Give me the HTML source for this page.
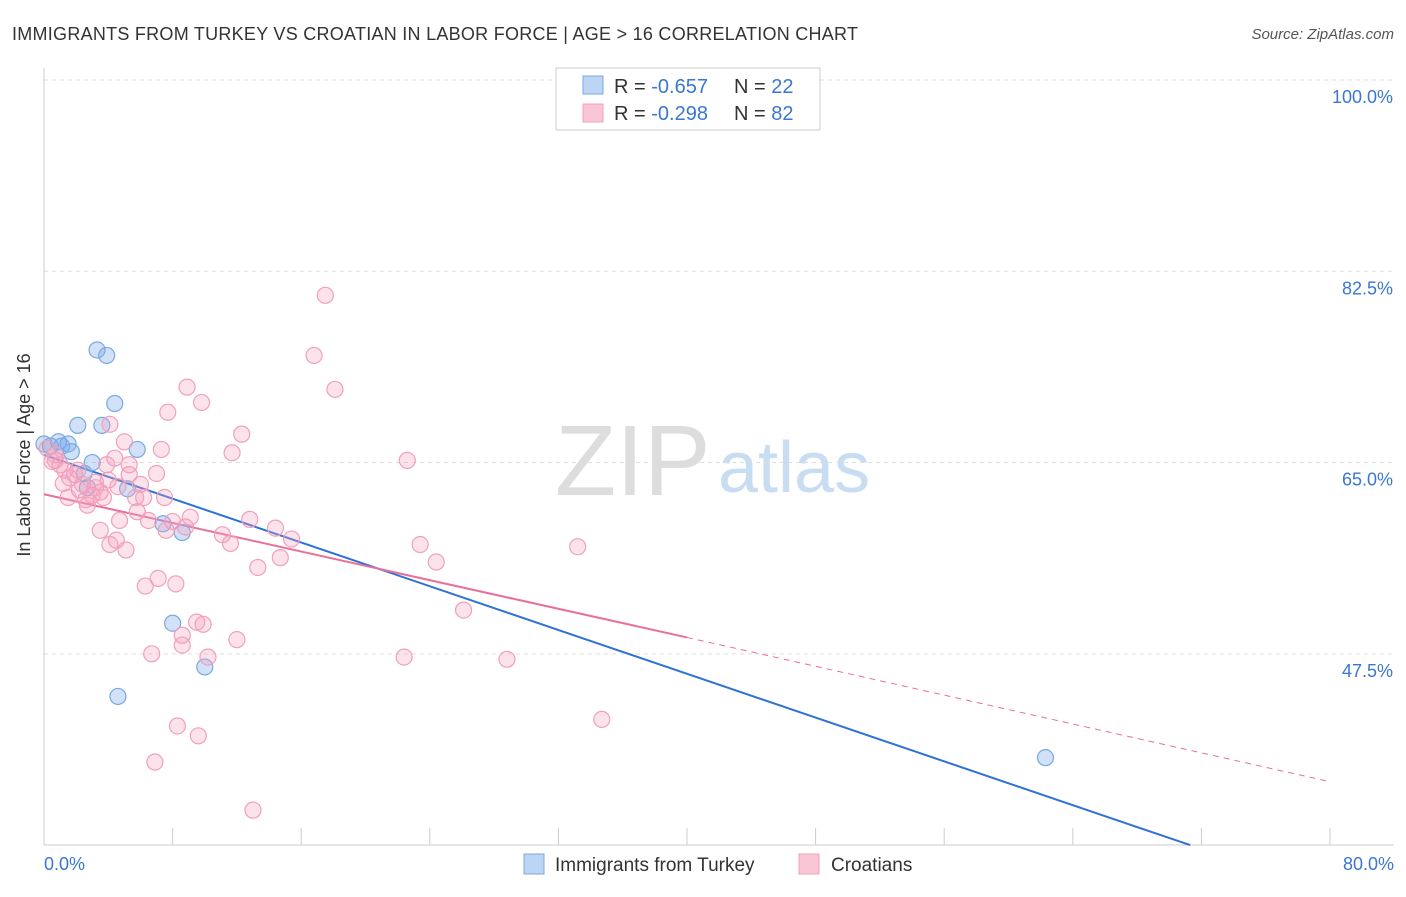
<!DOCTYPE html>
<html><head><meta charset="utf-8"><style>
body{margin:0;background:#fff;font-family:"Liberation Sans",sans-serif;}
svg text{font-family:"Liberation Sans",sans-serif;}
</style></head><body>
<svg id="chart" width="1406" height="892" viewBox="0 0 1406 892">
<text x="12" y="40" font-size="18" fill="#333" textLength="846" lengthAdjust="spacing">IMMIGRANTS FROM TURKEY VS CROATIAN IN LABOR FORCE | AGE &gt; 16 CORRELATION CHART</text>
<text x="1394" y="39" font-size="15" fill="#555" font-style="italic" text-anchor="end">Source: ZipAtlas.com</text>
<text x="30" y="455" font-size="18" fill="#333" text-anchor="middle" transform="rotate(-90 30 455)">In Labor Force | Age &gt; 16</text>
<text x="555" y="495" font-size="100" fill="#ddd" font-family="Liberation Serif">ZIP</text>
<text x="718" y="492" font-size="72" fill="#c8dcf2">atlas</text>
<g id="grid"></g><g id="axes"></g><g id="lines"></g><g id="pts"></g>
<g>
<rect x="556" y="68" width="264" height="62" fill="#fff" stroke="#ccc"/>
<rect x="583" y="76" width="20" height="18" fill="#bcd5f5" stroke="#7aa9e0"/>
<rect x="583" y="104" width="20" height="18" fill="#f9c6d6" stroke="#f0a0bc"/>
<text x="614" y="93" font-size="20" fill="#333">R = <tspan fill="#3a77d0">-0.657</tspan></text>
<text x="734" y="93" font-size="20" fill="#333">N = <tspan fill="#3a77d0">22</tspan></text>
<text x="614" y="120" font-size="20" fill="#333">R = <tspan fill="#3a77d0">-0.298</tspan></text>
<text x="734" y="120" font-size="20" fill="#333">N = <tspan fill="#3a77d0">82</tspan></text>
</g>
<g>
<rect x="524" y="854" width="20" height="20" fill="#bcd5f5" stroke="#7aa9e0"/>
<text x="555" y="871" font-size="19" fill="#333">Immigrants from Turkey</text>
<rect x="799" y="854" width="20" height="20" fill="#f9c6d6" stroke="#f0a0bc"/>
<text x="831" y="871" font-size="19" fill="#333">Croatians</text>
</g>
</svg>
<script>
const yTicks=[100,82.5,65,47.5];
const yTickLabels=["100.0%","82.5%","65.0%","47.5%"];
const xTickLabels=["0.0%","80.0%"];
const turkeyX=[0.0,0.4,0.9,1.1,1.5,1.7,2.1,3.0,3.3,3.9,4.4,3.6,5.8,5.2,2.5,7.4,8.6,8.0,10.0,4.6,62.3,2.7];
const turkeyY=[66.7,66.5,66.9,66.5,66.7,66.0,68.4,65.0,75.3,74.8,70.4,68.4,66.2,62.6,64.0,59.4,58.6,50.3,46.3,43.6,38.0,62.7];
const croatX=[17.5,16.8,18.1,8.9,9.8,7.7,4.1,5.0,7.3,12.3,11.7,22.6,4.4,7.0,5.3,0.2,0.7,1.0,1.3,1.6,1.9,2.2,2.6,3.0,3.5,4.0,4.6,5.7,6.2,5.8,4.7,6.5,8.0,8.8,9.1,12.8,14.4,15.4,11.1,11.6,7.6,3.5,4.5,5.1,23.4,24.4,33.2,14.7,13.3,7.1,6.3,8.2,26.1,9.5,9.9,8.6,8.6,12.0,6.7,10.2,22.4,28.8,34.7,8.3,9.6,6.9,13.0,1.5,2.7,3.2,3.7,2.4,1.2,2.1,0.7,0.5,3.9,5.3,3.2,6.0,7.5,4.1];
const croatY=[80.3,74.8,71.7,71.9,70.5,69.6,68.5,66.9,66.2,67.6,65.9,65.2,65.4,64.0,63.9,66.3,65.2,64.8,64.3,63.6,63.9,62.5,61.6,62.0,62.3,63.4,62.8,61.8,61.8,60.5,59.7,59.7,59.6,59.1,60.0,59.8,59.0,58.0,58.4,57.6,58.8,58.8,57.9,57.0,57.5,55.9,57.3,56.3,55.4,54.4,53.7,53.9,51.5,50.4,50.2,49.2,48.3,48.8,47.5,47.2,47.2,47.0,41.5,40.9,40.0,37.6,33.2,61.8,61.1,62.7,61.8,63.0,63.1,64.3,65.7,65.1,64.8,64.8,63.2,63.0,61.8,57.5];
const turkeyTrend=[[0,65.7],[71.3,30]];
const croatTrend=[[0,62.1],[40,49.0]];
const croatTrendExt=[[40,49.0],[80,35.8]];
const X=v=>44+v*16.075, Y=v=>80+(100-v)*10.93;
const NS="http://www.w3.org/2000/svg";
function mk(t,a,p){const e=document.createElementNS(NS,t);for(const k in a)e.setAttribute(k,a[k]);p.appendChild(e);return e;}
const grid=document.getElementById('grid'),axes=document.getElementById('axes'),lines=document.getElementById('lines'),pts=document.getElementById('pts');
yTicks.forEach((t,i)=>{
 const l=mk('line',{x1:44,x2:1394,y1:Y(t),y2:Y(t),stroke:'#ddd','stroke-dasharray':'4,4'},grid);
 
 
 const tx=mk('text',{x:1393,y:Y(t)+23,'font-size':18,fill:'#3a77d0','text-anchor':'end'},grid);
 tx.textContent=yTickLabels[i];
 
 
});
const ya=mk('line',{x1:44,x2:44,y1:68,y2:845,stroke:'#ccc'},axes);


const xa=mk('line',{x1:44,x2:1394,y1:845,y2:845,stroke:'#ccc'},axes);


for(let i=0;i<=10;i++){const tk=mk('line',{x1:X(i*8),x2:X(i*8),y1:828,y2:845,stroke:'#ccc'},axes);
 
 }
[[0,'start',44],[80,'end',1394]].forEach((d,i)=>{const tx=mk('text',{x:d[2],y:870,'font-size':18,fill:'#3a77d0','text-anchor':d[1]},axes);
 tx.textContent=xTickLabels[i];
 
 });
function ln(p,c,w,dash,name){const l=mk('line',{x1:X(p[0][0]),y1:Y(p[0][1]),x2:X(p[1][0]),y2:Y(p[1][1]),stroke:c,'stroke-width':w},lines);if(dash)l.setAttribute('stroke-dasharray',dash);
 
 }
turkeyX.forEach((x,i)=>{const c=mk('circle',{cx:X(x),cy:Y(turkeyY[i]),r:8,fill:'rgba(120,170,235,0.35)',stroke:'#7aa9e0','stroke-width':1.2},pts);
 
 });
croatX.forEach((x,i)=>{const c=mk('circle',{cx:X(x),cy:Y(croatY[i]),r:8,fill:'rgba(245,160,190,0.3)',stroke:'#f0a0bc','stroke-width':1.2},pts);
 
 });
ln(turkeyTrend,'#2f72d6',2,null,'trend-line-turkey');
ln(croatTrend,'#e8709a',2,null,'trend-line-croatians');
ln(croatTrendExt,'#e8709a',1,'6,5','trend-line-croatians-extension');
</script>
</body></html>
